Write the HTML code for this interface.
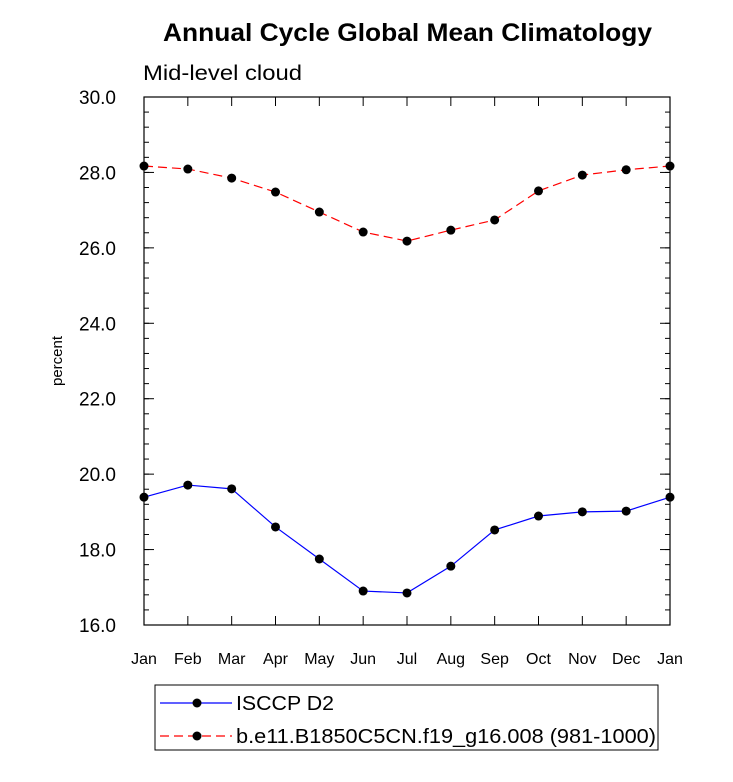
<!DOCTYPE html>
<html><head><meta charset="utf-8"><style>
body{margin:0;background:#fff;}
svg text{font-family:"Liberation Sans",Arial,sans-serif;}
</style></head><body>
<svg id="chart" width="733" height="777" xmlns="http://www.w3.org/2000/svg">
<text x="163" y="41" font-size="25" font-weight="bold" textLength="489" lengthAdjust="spacingAndGlyphs">Annual Cycle Global Mean Climatology</text>
<text x="143" y="80" font-size="21" textLength="159" lengthAdjust="spacingAndGlyphs">Mid-level cloud</text>
<text transform="translate(62,361) rotate(-90)" text-anchor="middle" font-size="15">percent</text>
<g id="axes"></g>
<g id="series"></g>
<g>
<rect x="155" y="685" width="503" height="65" fill="none" stroke="#000" stroke-width="1"/>
<line x1="160" y1="703" x2="232" y2="703" stroke="#0000ff" stroke-width="1.2"/>
<circle cx="197" cy="703" r="4.5" fill="#000"/>
<text x="236" y="710" font-size="20" textLength="98" lengthAdjust="spacingAndGlyphs">ISCCP D2</text>
<line x1="160" y1="736" x2="232" y2="736" stroke="#ff0000" stroke-width="1.2" stroke-dasharray="9,5"/>
<circle cx="197" cy="736" r="4.5" fill="#000"/>
<text x="236" y="743" font-size="20" textLength="420" lengthAdjust="spacingAndGlyphs">b.e11.B1850C5CN.f19_g16.008 (981-1000)</text>
</g>
</svg>
<script>
const months = ["Jan","Feb","Mar","Apr","May","Jun","Jul","Aug","Sep","Oct","Nov","Dec","Jan"];
const isccpValues = [19.39,19.71,19.61,18.6,17.75,16.9,16.85,17.56,18.52,18.89,19.0,19.02,19.39];
const modelValues = [28.17,28.09,27.85,27.48,26.95,26.42,26.18,26.47,26.74,27.51,27.93,28.07,28.17];
const yTickLabels = ["16.0","18.0","20.0","22.0","24.0","26.0","28.0","30.0"];
const yMin = 16, yMax = 30;

const L=144,R=670,T=97,B=625;
const NS="http://www.w3.org/2000/svg";
const xS=i=>L+(R-L)*i/(months.length-1);
const yS=v=>B-(B-T)*(v-yMin)/(yMax-yMin);
function mk(tag,attrs,parent){const e=document.createElementNS(NS,tag);for(const k in attrs)e.setAttribute(k,attrs[k]);parent.appendChild(e);return e;}
const axes=document.getElementById('axes');
const frame=mk('rect',{x:L,y:T,width:R-L,height:B-T,fill:'none',stroke:'#000','stroke-width':1.2},axes);


for(let i=0;i<months.length;i++){
  const x=xS(i);
  mk('line',{x1:x,y1:B,x2:x,y2:B-9,stroke:'#000'},axes);
  mk('line',{x1:x,y1:T,x2:x,y2:T+9,stroke:'#000'},axes);
  const t=mk('text',{x:x,y:B+39,'text-anchor':'middle','font-size':16},axes);
  t.textContent=months[i];
  
  
}
for(let v=yMin;v<=yMax+1e-6;v+=0.4){
  const y=yS(v);
  mk('line',{x1:L,y1:y,x2:L+5,y2:y,stroke:'#000'},axes);
  mk('line',{x1:R,y1:y,x2:R-5,y2:y,stroke:'#000'},axes);
}
yTickLabels.forEach(s=>{
  const v=parseFloat(s),y=yS(v);
  mk('line',{x1:L,y1:y,x2:L+10,y2:y,stroke:'#000'},axes);
  mk('line',{x1:R,y1:y,x2:R-10,y2:y,stroke:'#000'},axes);
  const t=mk('text',{x:L-28,y:y+7,'text-anchor':'end','font-size':19},axes);
  t.textContent=s;
  
  
});
const ser=document.getElementById('series');
function draw(vals,color,dash,name){
  const pts=vals.map((v,i)=>xS(i)+','+yS(v)).join(' ');
  const pl=mk('polyline',{points:pts,fill:'none',stroke:color,'stroke-width':1.2},ser);
  if(dash)pl.setAttribute('stroke-dasharray',dash);
  
  
  vals.forEach((v,i)=>{
    const c=mk('circle',{cx:xS(i),cy:yS(v),r:4.5,fill:'#000'},ser);
    
    
  });
}
draw(modelValues,'#ff0000','9,5','model');
draw(isccpValues,'#0000ff',null,'isccp');
</script>
</body></html>
